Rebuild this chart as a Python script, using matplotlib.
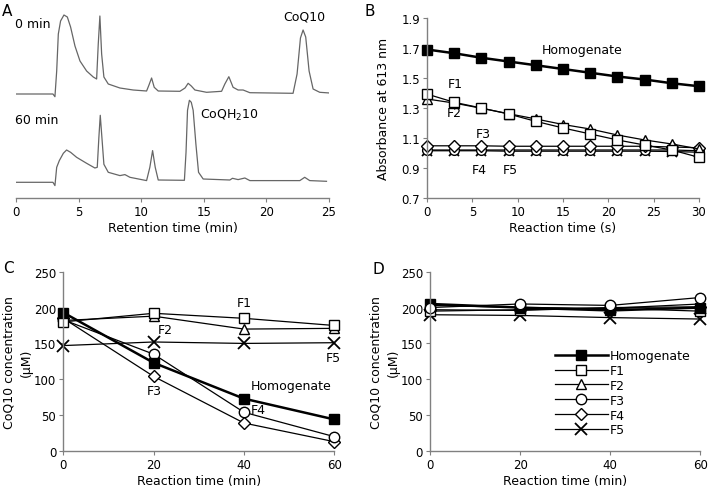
import matplotlib
matplotlib.use("Agg")
from matplotlib import pyplot as plt

plt.rcParams['font.family'] = ['DejaVu Sans']

# ---- panel A: chromatogram traces (min, height above baseline)
rt_0min = [0.0, 2.95, 3.11, 3.25, 3.38, 3.56, 3.83, 4.1, 4.36, 4.71, 5.11, 5.64, 6.17,
           6.44, 6.57, 6.7, 6.84, 7.02, 7.37, 8.3, 9.36, 10.43, 10.6, 10.83, 11.04,
           11.36, 13.09, 13.5, 13.75, 14.0, 14.29, 15.22, 16.42, 16.68, 17.0, 17.34,
           17.74, 18.14, 18.68, 22.13, 22.45, 22.72, 22.93, 23.14, 23.41, 23.73,
           24.26, 25.06]
sig_0min = [0, 0, -2.7, 23, 60, 73, 79, 77, 67, 48, 33, 23, 17,
            15, 50, 78, 40, 17, 10, 6, 4, 3, 8.3, 16, 6.7,
            3, 2.7, 6, 10.7, 8, 4, 1.7, 2.7, 10, 17.3, 6.7,
            4, 4, 1.3, 0.7, 20, 56, 64, 57, 23, 5,
            1.7, 1]
rt_60min = [0.0, 2.95, 3.11, 3.25, 3.46, 3.78, 4.04, 4.36, 4.84, 5.64, 6.3, 6.49,
            6.62, 6.73, 6.86, 7.02, 7.37, 8.3, 8.7, 9.1, 10.43, 10.69, 10.91, 11.12,
            11.36, 13.45, 13.58, 13.7, 13.85, 14.0, 14.15, 14.37, 14.58, 14.95, 17.08,
            17.29, 17.74, 18.28, 18.68, 22.67, 23.06, 23.46, 24.8]
sig_60min = [0, 0, -3.3, 15, 21.7, 29, 32.3, 30, 25, 19, 14.3, 15,
             45, 67, 45, 18, 10, 6.7, 7.7, 5, 1.7, 15, 31.7, 15,
             2.3, 2, 30, 72, 82, 80, 72, 38, 10, 3.3, 2.3,
             4, 2.7, 4.3, 1.7, 1.7, 5, 1.7, 1]

# ---- panel B: absorbance at 613 nm
time_s = [0, 3, 6, 9, 12, 15, 18, 21, 24, 27, 30]
abs_homog = [1.69, 1.665, 1.635, 1.61, 1.585, 1.56, 1.535, 1.51, 1.49, 1.465, 1.445]
abs_f1 = [1.393, 1.338, 1.30, 1.26, 1.211, 1.167, 1.127, 1.087, 1.053, 1.02, 0.971]
abs_f2 = [1.36, 1.333, 1.298, 1.262, 1.227, 1.19, 1.16, 1.12, 1.087, 1.06, 1.027]
abs_f3 = [1.02, 1.02, 1.02, 1.02, 1.02, 1.02, 1.02, 1.02, 1.02, 1.02, 1.015]
abs_f4 = [1.048, 1.048, 1.048, 1.045, 1.045, 1.045, 1.045, 1.045, 1.045, 1.04, 1.035]
abs_f5 = [1.015, 1.015, 1.015, 1.012, 1.012, 1.012, 1.012, 1.012, 1.012, 1.01, 1.005]

# ---- panels C and D: CoQ10 concentration (uM)
time_min = [0, 20, 40, 60]
c_homog = [193, 123, 73, 44]
c_f1 = [180, 192, 185, 175]
c_f2 = [182, 188, 170, 171]
c_f3 = [183, 135, 54, 20]
c_f4 = [185, 104, 39, 13]
c_f5 = [147, 152, 150, 151]

d_homog = [205, 200, 196, 200]
d_f1 = [195, 197, 199, 195]
d_f2 = [203, 200, 199, 205]
d_f3 = [200, 205, 203, 214]
d_f4 = [197, 196, 200, 201]
d_f5 = [190, 189, 186, 184]

labels = ['Homogenate', 'F1', 'F2', 'F3', 'F4', 'F5']
markers = ['s', 's', '^', 'o', 'D', 'x']

FS = 9
W, H = 708, 489
fig = plt.figure(figsize=(W / 100, H / 100), dpi=100)

def px_axes(x0, x1, ytop, ybot):
    return fig.add_axes([x0 / W, 1 - ybot / H, (x1 - x0) / W, (ybot - ytop) / H])

def style(ax):
    for s in ('top', 'right'):
        ax.spines[s].set_visible(False)
    for s in ('left', 'bottom'):
        ax.spines[s].set_color('#808080')
        ax.spines[s].set_linewidth(1.0)
    ax.tick_params(direction='out', length=3, color='#808080', labelsize=8.5, pad=2)
    ax.patch.set_alpha(0)

def mstyle(i, ms):
    face = 'black' if i == 0 else 'white'
    size = ms
    if markers[i] == 'x':
        size = ms * 1.1
    elif markers[i] == 'D':
        size = ms * 0.85
    return dict(marker=markers[i], markerfacecolor=face, markeredgecolor='black',
                markersize=size, markeredgewidth=1.0 if markers[i] != 'x' else 1.3,
                color='black', linewidth=1.8 if i == 0 else 0.9, clip_on=False)

# ---------------- A
axA = px_axes(16, 329, 4, 199)
style(axA)
axA.spines['left'].set_visible(False)
axA.set_yticks([])
axA.plot(rt_0min, [v + 104 for v in sig_0min], color='#666666', lw=0.9)
axA.plot(rt_60min, [v + 15.7 for v in sig_60min], color='#666666', lw=0.9)
axA.set_xlim(0, 25)
axA.set_ylim(0, 195)
axA.set_xticks([0, 5, 10, 15, 20, 25])
axA.set_xlabel('Retention time (min)', fontsize=FS, labelpad=2)
axA.text(-0.05, 175, '0 min', fontsize=FS, va='center')
axA.text(-0.05, 78, '60 min', fontsize=FS, va='center')
axA.text(23.0, 182, 'CoQ10', fontsize=FS, va='center', ha='center')
axA.text(14.7, 84, 'CoQH$_2$10', fontsize=FS, va='center', ha='left')
fig.text(2 / W, 1 - 12 / H, 'A', fontsize=11, va='center')

# ---------------- B
axB = px_axes(427, 699, 19, 199)
style(axB)
series_b = [abs_homog, abs_f1, abs_f2, abs_f3, abs_f4, abs_f5]
for i in [5, 3, 4, 2, 1, 0]:
    axB.plot(time_s, series_b[i], **mstyle(i, 7))
axB.set_xlim(0, 30)
axB.set_ylim(0.7, 1.9)
axB.set_yticks([0.7, 0.9, 1.1, 1.3, 1.5, 1.7, 1.9])
axB.set_yticklabels(['0.7', '0.9', '1.1', '1.3', '1.5', '1.7', '1.9'])
axB.set_xticks([0, 5, 10, 15, 20, 25, 30])
axB.set_xlabel('Reaction time (s)', fontsize=FS, labelpad=2)
axB.set_ylabel('Absorbance at 613 nm', fontsize=FS, labelpad=8)
axB.text(12.7, 1.693, 'Homogenate', fontsize=FS, va='center', ha='left')
axB.text(3.1, 1.46, 'F1', fontsize=FS, va='center', ha='center')
axB.text(3.0, 1.273, 'F2', fontsize=FS, va='center', ha='center')
axB.text(6.2, 1.127, 'F3', fontsize=FS, va='center', ha='center')
axB.text(5.8, 0.89, 'F4', fontsize=FS, va='center', ha='center')
axB.text(9.2, 0.89, 'F5', fontsize=FS, va='center', ha='center')
fig.text(365 / W, 1 - 12 / H, 'B', fontsize=11, va='center')

# ---------------- C
axC = px_axes(63.3, 334.3, 272.7, 452)
style(axC)
series_c = [c_homog, c_f1, c_f2, c_f3, c_f4, c_f5]
for i in [5, 4, 3, 2, 1, 0]:
    axC.plot(time_min, series_c[i], **mstyle(i, 7.5))
axC.set_xlim(0, 60)
axC.set_ylim(0, 250)
axC.set_xticks([0, 20, 40, 60])
axC.set_yticks([0, 50, 100, 150, 200, 250])
axC.set_xlabel('Reaction time (min)', fontsize=FS, labelpad=2)
axC.set_ylabel('CoQ10 concentration\n(\u03bcM)', fontsize=FS, labelpad=1,
               linespacing=1.4)
axC.text(40, 207, 'F1', fontsize=FS, va='center', ha='center')
axC.text(22.5, 170, 'F2', fontsize=FS, va='center', ha='center')
axC.text(59.8, 130, 'F5', fontsize=FS, va='center', ha='center')
axC.text(20.2, 84, 'F3', fontsize=FS, va='center', ha='center')
axC.text(41.5, 91, 'Homogenate', fontsize=FS, va='center', ha='left')
axC.text(43.2, 58, 'F4', fontsize=FS, va='center', ha='center')
fig.text(3 / W, 1 - 269 / H, 'C', fontsize=11, va='center')

# ---------------- D
axD = px_axes(430, 700.3, 272.7, 452)
style(axD)
series_d = [d_homog, d_f1, d_f2, d_f3, d_f4, d_f5]
handles = [None] * 6
for i in [5, 4, 2, 1, 0, 3]:
    handles[i], = axD.plot(time_min, series_d[i], label=labels[i], **mstyle(i, 7.5))
axD.set_xlim(0, 60)
axD.set_ylim(0, 250)
axD.set_xticks([0, 20, 40, 60])
axD.set_yticks([0, 50, 100, 150, 200, 250])
axD.set_xlabel('Reaction time (min)', fontsize=FS, labelpad=2)
axD.set_ylabel('CoQ10 concentration\n(\u03bcM)', fontsize=FS, labelpad=1,
               linespacing=1.4)
axD.legend(handles, labels, loc='upper left', bbox_to_anchor=(555 / W, 1 - 350 / H),
           bbox_transform=fig.transFigure, frameon=False, fontsize=FS,
           handlelength=4.2, handletextpad=0.15, labelspacing=0.15,
           borderpad=0, borderaxespad=0)
fig.text(372 / W, 1 - 270 / H, 'D', fontsize=11, va='center')

fig.savefig('out.png', dpi=100)
